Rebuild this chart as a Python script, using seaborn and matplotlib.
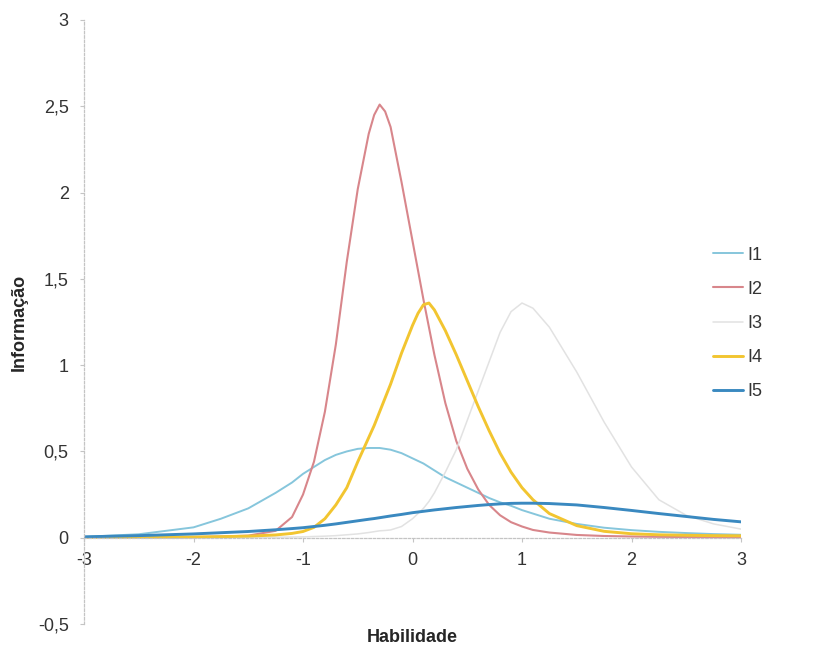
import matplotlib
matplotlib.use("Agg")
import matplotlib.pyplot as plt
from matplotlib.ticker import FuncFormatter, MultipleLocator
import pandas as pd
import seaborn as sns

# ability grid (theta) and item information values
theta = [-3, -2.5, -2, -1.75, -1.5, -1.25, -1.1, -1.0, -0.9, -0.8, -0.7, -0.6,
         -0.5, -0.4, -0.35, -0.3, -0.25, -0.2, -0.1, 0, 0.05, 0.1, 0.15, 0.2,
         0.3, 0.4, 0.5, 0.6, 0.7, 0.8, 0.9, 1.0, 1.1, 1.25, 1.5, 1.75, 2.0,
         2.25, 2.5, 2.75, 3.0]

i1 = [0.005, 0.02, 0.06, 0.11, 0.17, 0.26, 0.32, 0.37, 0.41, 0.45, 0.48, 0.50,
      0.515, 0.52, 0.52, 0.52, 0.515, 0.51, 0.49, 0.46, 0.445, 0.43, 0.41,
      0.39, 0.35, 0.32, 0.29, 0.26, 0.23, 0.205, 0.185, 0.16, 0.14, 0.11,
      0.08, 0.058, 0.044, 0.034, 0.027, 0.021, 0.017]
i2 = [0.001, 0.002, 0.004, 0.007, 0.012, 0.04, 0.12, 0.25, 0.44, 0.73, 1.12,
      1.6, 2.02, 2.34, 2.45, 2.51, 2.47, 2.38, 2.06, 1.72, 1.55, 1.38, 1.22,
      1.06, 0.78, 0.56, 0.4, 0.28, 0.19, 0.13, 0.09, 0.065, 0.045, 0.03,
      0.016, 0.01, 0.007, 0.005, 0.004, 0.003, 0.002]
i3 = [0.0, 0.0, 0.001, 0.001, 0.002, 0.003, 0.004, 0.005, 0.007, 0.009, 0.012,
      0.017, 0.022, 0.03, 0.035, 0.04, 0.042, 0.045, 0.065, 0.11, 0.14, 0.17,
      0.21, 0.26, 0.38, 0.51, 0.68, 0.85, 1.02, 1.19, 1.31, 1.36, 1.33, 1.22,
      0.96, 0.67, 0.41, 0.22, 0.13, 0.08, 0.05]
i4 = [0.001, 0.002, 0.004, 0.006, 0.009, 0.016, 0.025, 0.036, 0.06, 0.11, 0.19,
      0.29, 0.44, 0.58, 0.65, 0.73, 0.81, 0.89, 1.07, 1.23, 1.3, 1.35, 1.36,
      1.32, 1.2, 1.06, 0.91, 0.76, 0.62, 0.49, 0.38, 0.29, 0.22, 0.14, 0.07,
      0.037, 0.023, 0.017, 0.014, 0.012, 0.011]
i5 = [0.005, 0.012, 0.022, 0.029, 0.036, 0.046, 0.053, 0.058, 0.065, 0.072,
      0.08, 0.089, 0.098, 0.107, 0.111, 0.116, 0.121, 0.126, 0.135, 0.145,
      0.149, 0.153, 0.157, 0.161, 0.168, 0.175, 0.181, 0.187, 0.192, 0.196,
      0.199, 0.2, 0.2, 0.198, 0.19, 0.175, 0.158, 0.14, 0.123, 0.106, 0.092]

items = ['I1', 'I2', 'I3', 'I4', 'I5']
colors = ['#86c6dc', '#d8868b', '#e2e2e2', '#f2c530', '#3a89c0']
widths = [1.4, 1.5, 1.1, 2.1, 2.1]

df = pd.DataFrame({'theta': theta, 'I1': i1, 'I2': i2, 'I3': i3,
                   'I4': i4, 'I5': i5})
df = df.melt(id_vars='theta', var_name='item', value_name='info')

sns.set_style("white")
plt.rcParams['font.family'] = ['Liberation Sans', 'DejaVu Sans']

fig = plt.figure(figsize=(8.32, 6.48), dpi=100)
ax = fig.add_axes([84 / 832, 24 / 648, 657 / 832, 604 / 648])

for item, color, lw in zip(items, colors, widths):
    sns.lineplot(data=df[df['item'] == item], x='theta', y='info',
                 color=color, linewidth=lw, label=item, ax=ax)

ax.set_xlim(-3, 3)
ax.set_ylim(-0.5, 3)
ax.xaxis.set_major_locator(MultipleLocator(1))
ax.yaxis.set_major_locator(MultipleLocator(0.5))
comma = FuncFormatter(lambda v, p: '{:g}'.format(v).replace('.', ','))
ax.xaxis.set_major_formatter(comma)
ax.yaxis.set_major_formatter(comma)

for side in ['top', 'right']:
    ax.spines[side].set_visible(False)
ax.spines['bottom'].set_position(('data', 0))
for side in ['bottom', 'left']:
    ax.spines[side].set_color('#c4c4c4')
    ax.spines[side].set_linewidth(0.9)
    ax.spines[side].set_linestyle((0, (2, 1.5)))

ax.tick_params(axis='both', bottom=True, left=True, color='#c4c4c4',
               labelcolor='#333333', labelsize=13, length=3, width=0.8)
ax.tick_params(axis='x', pad=7)
ax.tick_params(axis='y', pad=8)

ax.set_xlabel('Habilidade', fontsize=13, fontweight='bold')
ax.set_ylabel('Informação', fontsize=13, fontweight='bold')
ax.xaxis.set_label_coords(0.5, -0.008)
ax.yaxis.set_label_coords(-0.085, 0.5)

ax.legend(loc='center left', bbox_to_anchor=(0.838, 0.501),
          bbox_transform=fig.transFigure, frameon=False, fontsize=13,
          handlelength=1.65, handletextpad=0.25, labelspacing=0.95,
          labelcolor='#333333')

fig.savefig('out.png', dpi=100)
